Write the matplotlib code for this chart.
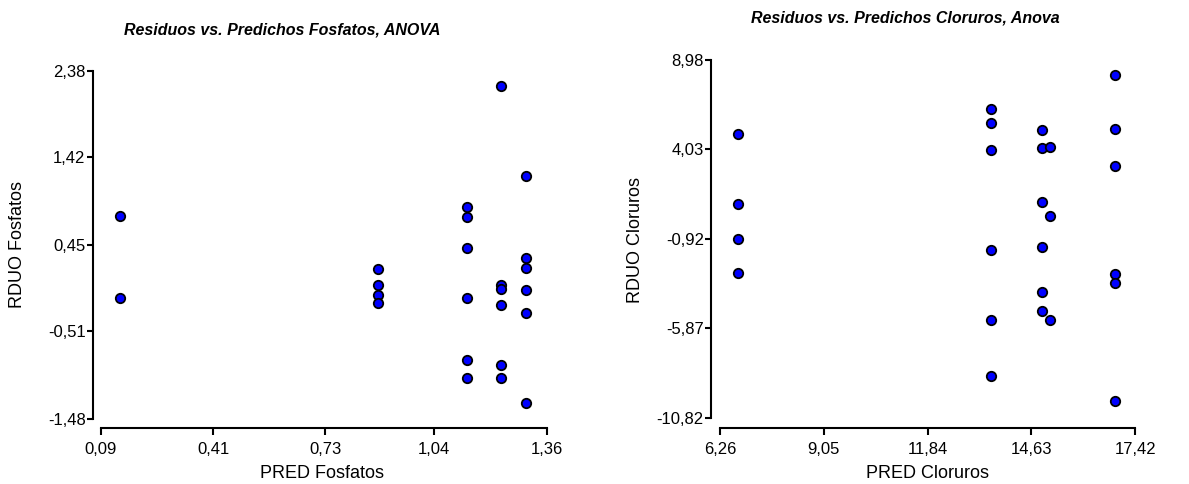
import matplotlib
matplotlib.use("Agg")
import matplotlib.pyplot as plt

plt.rcParams['font.family'] = ['Liberation Sans', 'DejaVu Sans']

# ---- Data: Fosfatos ----
fos_pred = [0.145, 0.145,
            0.88, 0.88, 0.88, 0.88,
            1.134, 1.134, 1.134, 1.134, 1.134, 1.134,
            1.23, 1.23, 1.23, 1.23, 1.23, 1.23,
            1.30, 1.30, 1.30, 1.30, 1.30, 1.30]
fos_res = [0.77, -0.14,
           0.18, 0.0, -0.11, -0.19,
           0.87, 0.76, 0.42, -0.14, -0.83, -1.03,
           2.21, 0.0, -0.04, -0.22, -0.88, -1.03,
           1.21, 0.30, 0.19, -0.05, -0.31, -1.30]
fos_xticks = [0.09, 0.41, 0.73, 1.04, 1.36]
fos_yticks = [-1.48, -0.51, 0.45, 1.42, 2.38]

# ---- Data: Cloruros ----
clo_pred = [6.74, 6.74, 6.74, 6.74,
            13.53, 13.53, 13.53, 13.53, 13.53, 13.53,
            14.90, 14.90, 14.90, 14.90, 14.90, 14.90,
            15.14, 15.14, 15.14,
            16.88, 16.88, 16.88, 16.88, 16.88, 16.88]
clo_res = [4.87, 0.99, -0.94, -2.83,
           6.25, 5.48, 4.00, -1.52, -5.41, -8.51,
           5.12, 4.09, 1.14, -1.35, -3.86, -4.90,
           4.18, 0.36, -5.41,
           8.17, 5.14, 3.13, -2.88, -3.35, -9.89]
clo_xticks = [6.26, 9.05, 11.84, 14.63, 17.42]
clo_yticks = [-10.82, -5.87, -0.92, 4.03, 8.98]

W, H = 1189, 484
fig = plt.figure(figsize=(W / 100, H / 100), dpi=100)


def fmt(v):
    return f"{v:.2f}".replace('.', ',')


def make_axes(left, right, top, bottom, xoff, yoff):
    ax = fig.add_axes([left / W, 1 - bottom / H, (right - left) / W, (bottom - top) / H])
    for s in ['top', 'right']:
        ax.spines[s].set_visible(False)
    ax.spines['left'].set_position(('outward', xoff * 0.72))
    ax.spines['bottom'].set_position(('outward', yoff * 0.72))
    for s in ['left', 'bottom']:
        ax.spines[s].set_linewidth(1.5)
    ax.tick_params(axis='both', direction='out', width=1.5, labelsize=12,
                   colors='black')
    ax.tick_params(axis='y', length=4, pad=1)
    ax.tick_params(axis='x', length=5, pad=5)
    return ax


# Left
ax1 = make_axes(100.7, 546.7, 70.7, 419, 8.2, 8.7)
ax1.scatter(fos_pred, fos_res, s=46, c='#0000ff', edgecolors='black',
            linewidths=1.3, zorder=3, clip_on=False)
ax1.set_xlim(fos_xticks[0], fos_xticks[-1])
ax1.set_ylim(fos_yticks[0], fos_yticks[-1])
ax1.set_xticks(fos_xticks)
ax1.set_xticklabels([fmt(v) for v in fos_xticks])
ax1.set_yticks(fos_yticks)
ax1.set_yticklabels([fmt(v) for v in fos_yticks])

# Right
ax2 = make_axes(720, 1135.3, 60, 417.7, 9.3, 10)
ax2.scatter(clo_pred, clo_res, s=46, c='#0000ff', edgecolors='black',
            linewidths=1.3, zorder=3, clip_on=False)
ax2.set_xlim(clo_xticks[0], clo_xticks[-1])
ax2.set_ylim(clo_yticks[0], clo_yticks[-1])
ax2.set_xticks(clo_xticks)
ax2.set_xticklabels([fmt(v) for v in clo_xticks])
ax2.set_yticks(clo_yticks)
ax2.set_yticklabels([fmt(v) for v in clo_yticks])

# Titles & labels (figure pixel positions)
def ftext(x, y, s, **kw):
    fig.text(x / W, 1 - y / H, s, ha='center', va='center', **kw)

ftext(282, 30, "Residuos vs. Predichos Fosfatos, ANOVA", fontsize=11.5,
      fontweight='bold', fontstyle='italic')
ftext(905, 18, "Residuos vs. Predichos Cloruros, Anova", fontsize=11.5,
      fontweight='bold', fontstyle='italic')
ftext(322, 473, "PRED Fosfatos", fontsize=13)
ftext(927, 474, "PRED Cloruros", fontsize=13)
ftext(18, 245, "RDUO Fosfatos", fontsize=13, rotation=90)
ftext(636, 240, "RDUO Cloruros", fontsize=13, rotation=90)

fig.savefig("out.png", dpi=100)
